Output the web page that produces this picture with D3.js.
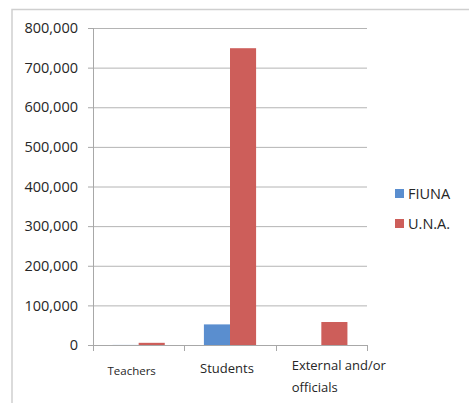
<!DOCTYPE html>
<html>
<head>
<meta charset="utf-8">
<script src="https://cdn.jsdelivr.net/npm/d3@7/dist/d3.min.js"></script>
<style>
  html, body { margin: 0; padding: 0; background: #fff; }
  svg { display: block; }
</style>
</head>
<body>
<svg id="chart" width="469" height="403"></svg>
<script>
// Participants by group
const categories = ["Teachers", "Students", "External and/or officials"];
const seriesNames = ["FIUNA", "U.N.A."];
const fiuna = [200, 52000, 0];
const una = [5500, 749000, 58000];
const yTicks = [0, 100000, 200000, 300000, 400000, 500000, 600000, 700000, 800000];
const colors = ["#5a8ecf", "#cd5e5a"];

(function draw() {
  const svg = d3.select("#chart");
  const font = "'Open Sans', 'DejaVu Sans', sans-serif";
  const ink = "#262626";

  // Outer chart frame
  svg.append("rect")
    .attr("x", 12).attr("y", 9.5)
    .attr("width", 470).attr("height", 410)
    .attr("fill", "none").attr("stroke", "#cfcfcf").attr("stroke-width", 1.5);

  const plotL = 93, plotR = 367, plotT = 28, plotB = 345;

  const x = d3.scaleBand().domain(categories).range([plotL, plotR]).paddingInner(0).paddingOuter(0);
  const y = d3.scaleLinear().domain([0, 800000]).range([plotB, plotT]);

  // Horizontal gridlines
  svg.append("g").selectAll("line").data(yTicks.slice(1)).join("line")
    .attr("x1", plotL).attr("x2", plotR)
    .attr("y1", d => y(d) + 0.5).attr("y2", d => y(d) + 0.5)
    .attr("stroke", "#b4b4b4").attr("stroke-width", 1);

  // Y axis
  const yAxis = d3.axisLeft(y).tickValues(yTicks).tickSize(5).tickPadding(10)
    .tickFormat(d3.format(","));
  const gy = svg.append("g").attr("transform", `translate(${plotL},0)`).call(yAxis);
  gy.select(".domain").attr("stroke", "#a8a8a8").attr("d", `M0.5,${plotT}V${plotB}`);
  gy.selectAll(".tick line").attr("stroke", "#a8a8a8");
  gy.selectAll(".tick text").attr("font-family", font).attr("font-size", "14.5px").attr("fill", ink);

  // Bars
  const inner = d3.scaleBand().domain(seriesNames).range([0, x.bandwidth()]).paddingInner(0).paddingOuter(0.75);
  const rows = categories.map((c, i) => ({ cat: c, vals: [fiuna[i], una[i]] }));
  const groups = svg.append("g").selectAll("g").data(rows).join("g")
    .attr("transform", d => `translate(${x(d.cat)},0)`);
  groups.selectAll("rect").data(d => d.vals.map((v, j) => ({ name: seriesNames[j], v, j })))
    .join("rect")
    .attr("x", d => inner(d.name))
    .attr("width", inner.bandwidth())
    .attr("y", d => y(d.v))
    .attr("height", d => plotB - y(d.v))
    .attr("fill", d => colors[d.j]);

  // X axis line and category ticks
  svg.append("line").attr("x1", plotL).attr("x2", plotR)
    .attr("y1", plotB + 0.5).attr("y2", plotB + 0.5)
    .attr("stroke", "#a8a8a8");
  const bounds = categories.map(c => x(c)).concat([plotR]);
  svg.append("g").selectAll("line").data(bounds).join("line")
    .attr("x1", d => Math.round(d) + 0.5).attr("x2", d => Math.round(d) + 0.5)
    .attr("y1", plotB).attr("y2", plotB + 6)
    .attr("stroke", "#a8a8a8");

  // Category labels
  const labelLines = [["Teachers"], ["Students"], ["External and/or", "officials"]];
  const labelSizes = [11.5, 13, 13];
  const labelY = [375, 373, 370];
  const labelShift = [-7, -3, 0];
  categories.forEach((c, i) => {
    const t = svg.append("text")
      .attr("font-family", font).attr("font-size", labelSizes[i] + "px").attr("fill", ink);
    const lines = labelLines[i];
    if (lines.length === 1) {
      t.attr("x", x(c) + x.bandwidth() / 2 + labelShift[i]).attr("y", labelY[i])
        .attr("text-anchor", "middle").text(lines[0]);
    } else {
      lines.forEach((ln, k) => {
        t.append("tspan").attr("x", x(c) + 16).attr("y", labelY[i] + k * 22).text(ln);
      });
    }
  });

  // Legend
  const legend = svg.append("g").selectAll("g").data(seriesNames).join("g")
    .attr("transform", (d, i) => `translate(395,${189 + i * 30})`);
  legend.append("rect").attr("width", 9).attr("height", 9).attr("fill", (d, i) => colors[i]);
  legend.append("text").attr("x", 13).attr("y", 9.5)
    .attr("font-family", font).attr("font-size", "14.5px").attr("fill", ink).text(d => d);
})();
</script>
</body>
</html>
